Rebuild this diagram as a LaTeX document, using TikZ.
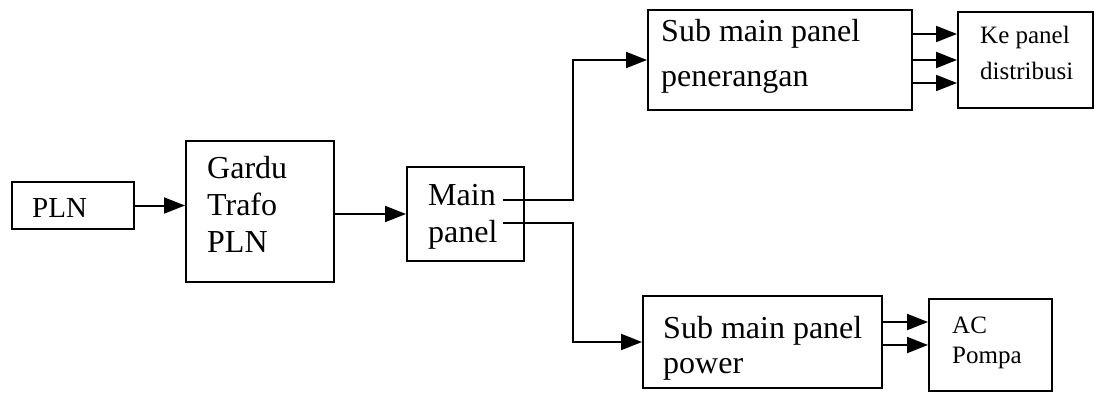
\documentclass[tikz,border=0pt]{standalone}
\usepackage{fontspec}
\setmainfont{Liberation Serif}
\usetikzlibrary{arrows.meta,calc}
\begin{document}
\begin{tikzpicture}[x=1pt,y=-1pt,
  box/.style 2 args={draw,line width=2pt,inner sep=0pt,minimum width=#1,minimum height=#2},
  txt/.style={inner sep=0pt,anchor=base west,font=\fontsize{32}{38}\selectfont},
  stxt/.style={inner sep=0pt,anchor=base west,font=\fontsize{25}{30}\selectfont},
  mtxt/.style={inner sep=0pt,anchor=base west,font=\fontsize{29}{34}\selectfont},
  arr/.style={line width=2pt,-{Triangle[length=21pt,width=16pt]}}]
\useasboundingbox (0,0) rectangle (1097,396);
% boxes
\node[box={122pt}{47pt}] (pln) at (73,205.5) {};
\node[box={148pt}{141pt}] (gardu) at (260,211.5) {};
\node[box={117pt}{94pt}] (main) at (465.5,214) {};
\node[box={264pt}{100pt}] (subA) at (780,60) {};
\node[box={135pt}{96pt}] (ke) at (1025.5,60) {};
\node[box={239pt}{92pt}] (subB) at (762.5,342) {};
\node[box={123pt}{92pt}] (ac) at (990.5,345) {};
% texts
\node[mtxt] (plnt) at (32,217) {PLN};
\node[txt] (gt1) at (207,178) {Gardu};
\node[txt] (gt2) at (207,215) {Trafo};
\node[txt] (gt3) at (207,252) {PLN};
\node[txt] (mt1) at (428,205) {Main};
\node[txt] (mt2) at (428,242) {panel};
\node[txt] (at1) at (661,42) {Sub main panel};
\node[txt] (at2) at (661,86) {penerangan};
\node[stxt] (kt1) at (980,44) {Ke panel};
\node[stxt] (kt2) at (980,80) {distribusi};
\node[txt] (bt1) at (663,338) {Sub main panel};
\node[txt] (bt2) at (663,373) {power};
\node[stxt] (ct1) at (952,333) {AC};
\node[stxt] (ct2) at (952,363) {Pompa};
% connectors
\coordinate (m1) at (503,200);
\coordinate (m2) at (503,223);
\coordinate (jx) at (573,0);
\draw[arr] (pln.east) -- (pln.east -| gardu.west);
\draw[arr] (gardu.east |- main.west) -- (main.west);
\draw[arr] (m1) -- (m1 -| jx) |- (subA.west);
\draw[arr] (m2) -- (m2 -| jx) |- (subB.west);
\foreach \yy in {34,60,83} \draw[arr] (subA.east |- 0,\yy) -- (ke.west |- 0,\yy);
\foreach \yy in {322,345} \draw[arr] (subB.east |- 0,\yy) -- (ac.west |- 0,\yy);
\end{tikzpicture}
\end{document}
